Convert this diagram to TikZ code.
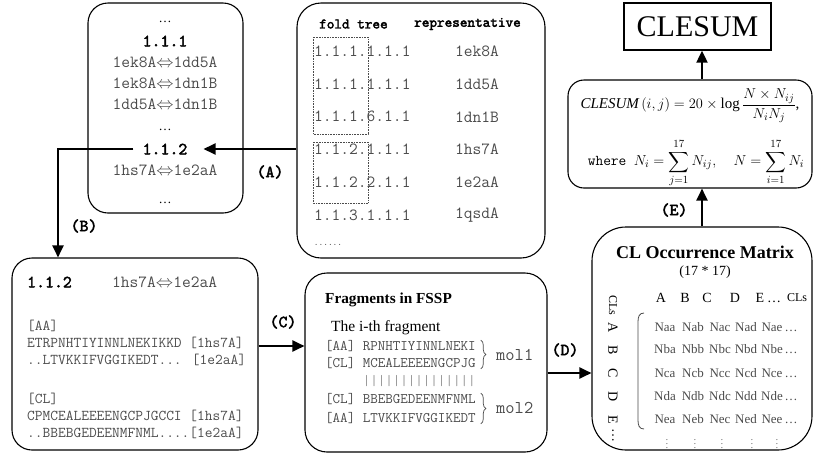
\documentclass[tikz,border=0pt]{standalone}
\usepackage{amsmath}
\usepackage{fontspec}
\setmainfont{Liberation Serif}
\newfontfamily\boldmono{lmmono10-regular.otf}[FakeBold=2.5]
\usetikzlibrary{positioning,arrows.meta,decorations.pathreplacing}
\definecolor{seqGray}{RGB}{75,75,75}
\definecolor{barGray}{RGB}{150,150,150}

\tikzset{
  panel/.style={draw, line width=1.1pt, rounded corners=20pt, inner sep=0pt},
  flow/.style={-{Triangle[length=12pt,width=11pt]}, line width=2pt},
  steplab/.style={font=\fontsize{17}{17}\selectfont\boldmono, inner sep=0pt},
  head/.style={font=\fontsize{17}{17}\selectfont\boldmono, inner sep=0pt},
  big/.style={font=\fontsize{17}{17}\selectfont\ttfamily, text=seqGray, inner sep=0pt},
  seq/.style={font=\fontsize{15}{15}\selectfont\ttfamily, text=seqGray, inner sep=0pt, anchor=west},
  frseq/.style={font=\fontsize{14.6}{14.6}\selectfont\ttfamily, text=seqGray, inner sep=0pt, anchor=west},
  famBox/.style={densely dotted, line width=0.6pt, seqGray},
  seqbrace/.style={decorate, decoration={brace, amplitude=5pt}, line width=0.7pt, seqGray},
  cell/.style={font=\fontsize{13}{13}\selectfont, text=seqGray, inner sep=0pt, anchor=base},
  colhd/.style={font=\fontsize{14}{14}\selectfont, inner sep=0pt, anchor=base},
  rowhd/.style={font=\fontsize{14}{14}\selectfont, inner sep=0pt, rotate=-90},
}

\begin{document}
\begin{tikzpicture}[x=1pt, y=-1pt]
  \useasboundingbox (0,0) rectangle (815,459);

  % panels
  \node[panel, minimum width=155pt, minimum height=210pt] (pairs) at (165.5,108) {};
  \node[panel, rounded corners=24pt, minimum width=248pt, minimum height=255pt] (tree) at (421,130.5) {};
  \node[draw, line width=1.3pt, minimum width=147pt, minimum height=47pt,
        font=\fontsize{30}{30}\selectfont] (clesum) at (697.5,26.5) {CLESUM};
  \node[panel, rounded corners=16pt, minimum width=244pt, minimum height=108pt] (formula) at (690,134) {};
  \node[panel, minimum width=246pt, minimum height=192pt] (align) at (135,354) {};
  \node[panel, rounded corners=22pt, minimum width=242pt, minimum height=179pt] (frag) at (426,362.5) {};
  \node[panel, rounded corners=34pt, minimum width=220pt, minimum height=223pt] (matrix) at (702,338.5) {};

  % structure pairs of each family
  \node[font=\fontsize{13}{13}\selectfont, inner sep=0pt] (pd1) at (165,22) {\ldots};
  \node[head] (famA) at (165,41) {1.1.1};
  \node[big] (p1) at (165,62) {1ek8A$\Leftrightarrow$1dd5A};
  \node[big] (p2) at (165,83) {1ek8A$\Leftrightarrow$1dn1B};
  \node[big] (p3) at (165,104) {1dd5A$\Leftrightarrow$1dn1B};
  \node[font=\fontsize{13}{13}\selectfont, inner sep=0pt] (pd2) at (165,130) {\ldots};
  \node[head] (famB) at (165,149) {1.1.2};
  \node[big] (p4) at (165,170) {1hs7A$\Leftrightarrow$1e2aA};
  \node[font=\fontsize{13}{13}\selectfont, inner sep=0pt] (pd3) at (165,203) {\ldots};

  % fold tree table
  \node[font=\fontsize{14.5}{14.5}\selectfont\boldmono, inner sep=0pt, anchor=west] (hdFold) at (319,24) {fold tree};
  \node[font=\fontsize{14.5}{14.5}\selectfont\boldmono, inner sep=0pt, anchor=west] (hdRep) at (414,24) {representative};
  \foreach \fam/\rep [count=\i] in {1.1.1.1.1.1/1ek8A, 1.1.1.1.1.1/1dd5A, 1.1.1.6.1.1/1dn1B,
                                    1.1.2.1.1.1/1hs7A, 1.1.2.2.1.1/1e2aA, 1.1.3.1.1.1/1qsdA} {
    \node[big, anchor=west] (fam\i) at (314,18.5+32.75*\i) {\fam};
    \node[big, anchor=west] (rep\i) at (455,18.5+32.75*\i) {\rep};
  }
  \draw[famBox] (313,37) rectangle (368,134);
  \draw[famBox] (313,142) rectangle (368,203);
  \node[font=\fontsize{9}{9}\selectfont\ttfamily, text=seqGray, inner sep=0pt] (more) at (328,245) {......};

  % aligned pair
  \node[head, anchor=west] (alFam) at (27,282) {1.1.2};
  \node[big, anchor=west] (alPair) at (112,282) {1hs7A$\Leftrightarrow$1e2aA};
  \node[seq] (alAA) at (27,326) {[AA]};
  \node[seq] (alAA1) at (27,343) {ETRPNHTIYINNLNEKIKKD [1hs7A]};
  \node[seq] (alAA2) at (27,360) {..LTVKKIFVGGIKEDT... [1e2aA]};
  \node[seq] (alCL) at (27,399) {[CL]};
  \node[seq] (alCL1) at (27,416) {CPMCEALEEEENGCPJGCCI [1hs7A]};
  \node[seq] (alCL2) at (27,433) {..BBEBGEDEENMFNML....[1e2aA]};

  % fragments
  \node[font=\fontsize{15.3}{15.3}\selectfont\bfseries, inner sep=0pt, anchor=west] (frTitle) at (325,300) {Fragments in FSSP};
  \node[font=\fontsize{15.5}{15.5}\selectfont, inner sep=0pt, anchor=west] (frSub) at (331,328) {The i-th fragment};
  \node[frseq] (fAA1) at (325,346) {[AA]~RPNHTIYINNLNEKI};
  \node[frseq] (fCL1) at (325,363) {[CL]~MCEALEEEENGCPJG};
  \node[frseq, text=barGray] (fBar) at (325,381) {\phantom{[CL]~}|||||||||||||||};
  \node[frseq] (fCL2) at (325,399) {[CL]~BBEBGEDEENMFNML};
  \node[frseq] (fAA2) at (325,418) {[AA]~LTVKKIFVGGIKEDT};
  \draw[seqbrace] ([xshift=5pt]fAA1.north east) -- ([xshift=5pt]fCL1.south east);
  \draw[seqbrace] ([xshift=5pt]fCL2.north east) -- ([xshift=5pt]fAA2.south east);
  \node[font=\fontsize{18}{18}\selectfont\ttfamily, text=seqGray, inner sep=0pt, anchor=west] (mol1) at (496,355) {mol1};
  \node[font=\fontsize{18}{18}\selectfont\ttfamily, text=seqGray, inner sep=0pt, anchor=west] (mol2) at (496,408) {mol2};

  % occurrence matrix
  \node[font=\fontsize{18}{18}\selectfont\bfseries, inner sep=0pt] (mxTitle) at (705,252) {CL Occurrence Matrix};
  \node[font=\fontsize{14}{14}\selectfont, inner sep=0pt] (mxSize) at (705,272) {(17 * 17)};
  \foreach \l/\x in {A/661,B/685,C/707,D/735,E/760}
    \node[colhd] (col\l) at (\x,302) {\l};
  \node[colhd, anchor=base west] (colDots) at (767,302) {\ldots};
  \node[colhd, font=\fontsize{12}{12}\selectfont] (colCLs) at (797,301) {CLs};
  \node[rowhd, font=\fontsize{12}{12}\selectfont] (rowCLs) at (613,305) {CLs};
  \foreach \l/\y in {A/328,B/350,C/373,D/397,E/420}
    \node[rowhd] (row\l) at (613,\y) {\l};
  \node[rowhd] (rowDots) at (613,435) {\ldots};
  \draw[line width=0.8pt, seqGray] (644,313) .. controls (639,313) and (638,317) .. (638,322)
    -- (638,420) .. controls (638,425) and (639,429) .. (644,429);
  \foreach \r/\ry in {a/327,b/349,c/373,d/396,e/419} {
    \foreach \c/\cx in {a/665,b/693,c/720,d/746,e/772}
      \node[cell] (n\r\c) at (\cx,\ry+4.5) {N\r\c};
    \node[cell] (n\r x) at (791,\ry+4.5) {\ldots};
  }
  \foreach \cx [count=\k] in {667,695,722,752,777}
    \node[cell, anchor=center, font=\fontsize{9}{9}\selectfont] (vd\k) at (\cx,441) {$\vdots$};

  % formula
  \node[font=\fontsize{15}{15}\selectfont, inner sep=0pt] (eqScore) at (690,106)
    {$\mathit{CLESUM}\,(i,j)=20\times\log\dfrac{N\times N_{ij}}{N_iN_j}$,};
  \node[font=\fontsize{15}{15}\selectfont, inner sep=0pt] (eqWhere) at (696,163)
    {{\ttfamily where}\enspace $\displaystyle N_i=\sum_{j=1}^{17}N_{ij},\quad N=\sum_{i=1}^{17}N_i$};

  % steps
  \draw[flow] (tree.west |- famB) -- ([xshift=16pt]famB.east);
  \coordinate (bTurn) at (58,149);
  \draw[flow] ([xshift=-9pt]famB.west) -- (bTurn) -- (bTurn |- align.north);
  \draw[flow] (align.east |- fAA1) -- (frag.west |- fAA1);
  \draw[flow] (frag.east |- rowC) -- (matrix.west |- rowC);
  \draw[flow] (matrix.north) -- (matrix.north |- formula.south);
  \draw[flow] (formula.north -| matrix.north) -- (clesum.south -| matrix.north);
  \node[steplab] (labA) at (270,172) {(A)};
  \node[steplab] (labB) at (84,226) {(B)};
  \node[steplab] (labC) at (283,322) {(C)};
  \node[steplab] (labD) at (565,350) {(D)};
  \node[steplab] (labE) at (674,210) {(E)};
\end{tikzpicture}
\end{document}
